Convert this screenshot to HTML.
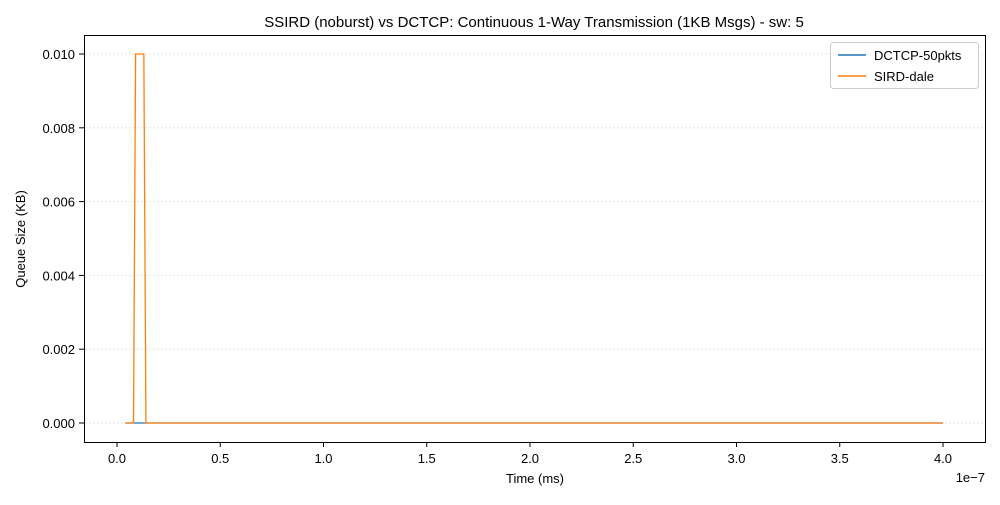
<!DOCTYPE html>
<html><head><meta charset="utf-8"><style>
body{margin:0;background:#fff;font-family:"Liberation Sans",sans-serif}
svg text{font-family:"Liberation Sans",sans-serif;fill:#000}
</style></head><body>
<svg width="1000" height="500" id="c">
<rect x="0" y="0" width="1000" height="500" fill="#fff"/>
<text x="534" y="27" font-size="15" text-anchor="middle">SSIRD (noburst) vs DCTCP: Continuous 1-Way Transmission (1KB Msgs) - sw: 5</text>
<g id="grid"></g><g id="series"></g>
<rect x="84.5" y="35.5" width="901" height="407" fill="none" stroke="#000" stroke-width="1"/>
<g id="xt"></g><g id="yt"></g>
<text x="985" y="482" font-size="13" text-anchor="end">1e−7</text>
<text x="535" y="483" font-size="13" text-anchor="middle">Time (ms)</text>
<text transform="translate(25,239) rotate(-90)" font-size="13" text-anchor="middle">Queue Size (KB)</text>
<g>
<rect x="830.5" y="42.5" width="148" height="46" rx="3" fill="#fff" stroke="#ccc"/>
<line x1="838" y1="55" x2="866" y2="55" stroke="#1f77b4" stroke-width="1.5"/>
<text x="874" y="60" font-size="13">DCTCP-50pkts</text>
<line x1="838" y1="76" x2="866" y2="76" stroke="#ff7f0e" stroke-width="1.5"/>
<text x="874" y="81" font-size="13">SIRD-dale</text>
</g>
</svg>
<script>
const xTicks=[0,0.5,1,1.5,2,2.5,3,3.5,4];
const xTickLabels=["0.0","0.5","1.0","1.5","2.0","2.5","3.0","3.5","4.0"];
const yTicks=[0,0.002,0.004,0.006,0.008,0.010];
const yTickLabels=["0.000","0.002","0.004","0.006","0.008","0.010"];
const dctcpX=[0.04,4.0];
const dctcpY=[0,0];
const sirdX=[0.04,0.08,0.09,0.13,0.14,4.0];
const sirdY=[0,0,0.01,0.01,0,0];
const NS="http://www.w3.org/2000/svg";
const sx=v=>117+v*206.5;
const sy=v=>423-v*36900;
function mk(t,a,p){const e=document.createElementNS(NS,t);for(const k in a)e.setAttribute(k,a[k]);p.appendChild(e);return e;}
const grid=document.getElementById('grid'),xt=document.getElementById('xt'),yt=document.getElementById('yt'),ser=document.getElementById('series');
xTicks.forEach((v,i)=>{
 const l=mk('line',{x1:sx(v),x2:sx(v),y1:442,y2:447,stroke:'#000'},xt);
 
 
 const t=mk('text',{x:sx(v),y:463,'font-size':13,'text-anchor':'middle'},xt);t.textContent=xTickLabels[i];
 
 
});
yTicks.forEach((v,i)=>{
 const g=mk('line',{x1:85,x2:985,y1:sy(v),y2:sy(v),stroke:'#ddd','stroke-dasharray':'2,2','stroke-width':0.8},grid);
 
 
 const l=mk('line',{x1:79,x2:84,y1:sy(v),y2:sy(v),stroke:'#000'},yt);
 
 
 const t=mk('text',{x:75,y:sy(v)+5,'font-size':13,'text-anchor':'end'},yt);t.textContent=yTickLabels[i];
 
 
});
function line(xs,ys,c,n){const p=mk('polyline',{points:xs.map((x,i)=>sx(x)+','+sy(ys[i])).join(' '),fill:'none',stroke:c,'stroke-width':1.3},ser);
 
 }
line(dctcpX,dctcpY,'#1f77b4','dctcp-line');
line(sirdX,sirdY,'#ff7f0e','sird-line');
</script>
</body></html>
